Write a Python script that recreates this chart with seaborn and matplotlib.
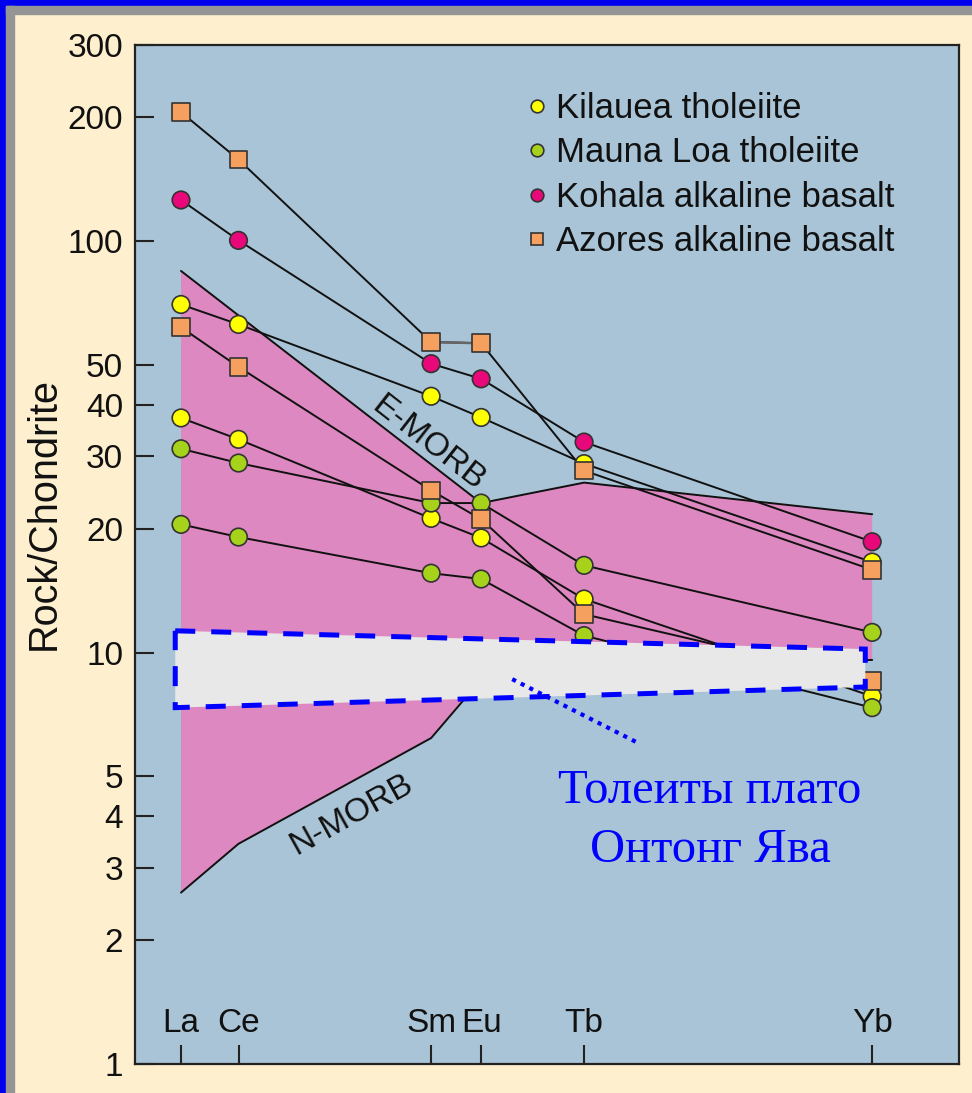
import numpy as np
import pandas as pd
import matplotlib
matplotlib.use("Agg")
import matplotlib.pyplot as plt
import seaborn as sns
from matplotlib.patches import Polygon, Rectangle
from matplotlib.ticker import NullLocator, FixedLocator, FixedFormatter

# ---------------- data ----------------
elements = ["La", "Ce", "Sm", "Eu", "Tb", "Yb"]
element_pos = [0, 1, 4.35, 5.22, 7.01, 12.02]

kilauea_1 = [70.2, 62.8, 42.0, 37.3, 28.8, 16.6]
kilauea_2 = [37.2, 33.0, 21.2, 19.0, 13.5, 7.83]
mauna_loa_1 = [31.3, 28.9, 23.1, 23.1, 16.3, 11.2]
mauna_loa_2 = [20.5, 19.1, 15.6, 15.1, 11.0, 7.35]
kohala = [126, 100.5, 50.4, 46.3, 32.5, 18.6]
azores_1 = [206, 158, 56.9, 56.5, 27.7, 15.9]
azores_2 = [61.8, 49.5, 24.8, 21.1, 12.4, 8.53]

groups = ["Kilauea tholeiite", "Mauna Loa tholeiite",
          "Kohala alkaline basalt", "Azores alkaline basalt"]

# MORB field boundaries
e_morb_elements = ["La", "Eu", "Tb", "Yb"]
e_morb = [84.7, 23.1, 25.9, 21.7]
n_morb_elements = ["La", "Ce", "Sm", "Eu", "Tb", "Yb"]
n_morb = [2.61, 3.43, 6.2, 8.6, 9.2, 9.6]

# Ontong Java annotation band (x in element-position units, y in Rock/Chondrite)
band_x = [-0.1, 11.9, 11.9, -0.1]
band_y = [11.3, 10.2, 8.25, 7.35]
pointer_x = [5.76, 7.93]
pointer_y = [8.62, 6.05]

y_ticks = [1, 2, 3, 4, 5, 10, 20, 30, 40, 50, 100, 200, 300]

# ---------------- styling ----------------
CREAM = "#FEF0CE"
AXBG = "#A9C4D6"
PINK = "#DD88C0"
palette = {"Kilauea tholeiite": "#FFFF00",
           "Mauna Loa tholeiite": "#A6D21C",
           "Kohala alkaline basalt": "#E8087A",
           "Azores alkaline basalt": "#F5A05E"}
markers = {"Kilauea tholeiite": "o", "Mauna Loa tholeiite": "o",
           "Kohala alkaline basalt": "o", "Azores alkaline basalt": "s"}

sns.set_theme(style="ticks")
plt.rcParams["font.family"] = ["Liberation Sans", "DejaVu Sans"]

pos_of = dict(zip(elements, element_pos))

samples = [("Kilauea 1", groups[0], kilauea_1), ("Kilauea 2", groups[0], kilauea_2),
           ("Mauna Loa 1", groups[1], mauna_loa_1), ("Mauna Loa 2", groups[1], mauna_loa_2),
           ("Kohala", groups[2], kohala),
           ("Azores 1", groups[3], azores_1), ("Azores 2", groups[3], azores_2)]
rows = []
for name, grp, vals in samples:
    for el, v in zip(elements, vals):
        rows.append({"sample": name, "group": grp, "element": el,
                     "pos": pos_of[el], "value": v})
df = pd.DataFrame(rows)

fig = plt.figure(figsize=(9.72, 10.93), dpi=100, facecolor=CREAM)
ax = fig.add_axes([135 / 972, 29 / 1093, 824 / 972, 1019 / 1093])
ax.set_facecolor(AXBG)
ax.set_yscale("log")
ax.set_ylim(1, 300)
ax.set_xlim(-0.8, 13.53)

# slide frame (blue + grey bands on top and left)
fig.patches.append(Rectangle((0, 1 - 6 / 1093), 1, 6 / 1093, transform=fig.transFigure,
                             color="#0000EE", zorder=0))
fig.patches.append(Rectangle((0, 0), 6 / 972, 1, transform=fig.transFigure,
                             color="#0000EE", zorder=0))
fig.patches.append(Rectangle((6 / 972, 1 - 14 / 1093), 1, 8 / 1093, transform=fig.transFigure,
                             color="#959595", zorder=0))
fig.patches.append(Rectangle((6 / 972, 0), 8 / 972, 1 - 6 / 1093, transform=fig.transFigure,
                             color="#959595", zorder=0))

# MORB field
ex = [pos_of[e] for e in e_morb_elements]
nx = [pos_of[e] for e in n_morb_elements]
field_x = ex + nx[::-1]
field_y = e_morb + n_morb[::-1]
ax.fill(field_x, field_y, color=PINK, lw=0, zorder=1)
ax.plot(ex, e_morb, color="#111111", lw=1.4, zorder=2)
ax.plot(nx, n_morb, color="#111111", lw=1.4, zorder=2)

# sample lines
sns.lineplot(data=df, x="pos", y="value", units="sample", estimator=None,
             color="#111111", linewidth=1.4, sort=False, legend=False, ax=ax, zorder=3)
az = df[(df["sample"] == "Azores 1") & (df["element"].isin(["Sm", "Eu"]))]
ax.plot(az["pos"], az["value"], color="#666666", lw=1.8, zorder=3.5)

# points
sns.scatterplot(data=df, x="pos", y="value", hue="group", style="group",
                palette=palette, markers=markers, hue_order=groups, style_order=groups,
                s=160, edgecolor="#333333", linewidth=1.2, ax=ax, zorder=4, legend=True)

handles, labels = ax.get_legend_handles_labels()
leg = ax.legend(handles, labels, loc="upper left", bbox_to_anchor=(0.471, 0.954),
                frameon=False, fontsize=25, handletextpad=0.15, labelspacing=0.33,
                handlelength=0.8, borderpad=0, borderaxespad=0, markerscale=0.72)
for t in leg.get_texts():
    t.set_color("#111111")

# Ontong Java band
band = Polygon(list(zip(band_x, band_y)), closed=True, facecolor="#E8E8E8",
               edgecolor="#0000FF", lw=3.6, linestyle=(0, (4, 3.2)), zorder=6)
ax.add_patch(band)
ax.plot(pointer_x, pointer_y, color="#0000FF", lw=3.0, linestyle=(0, (1, 1.3)),
        dash_capstyle="butt", zorder=6)

# labels on the field
ax.text(0.356, 0.609, "E-MORB", transform=ax.transAxes, rotation=-38,
        ha="center", va="center", fontsize=24, color="#111111", zorder=5)
ax.text(0.263, 0.245, "N-MORB", transform=ax.transAxes, rotation=29,
        ha="center", va="center", fontsize=24, color="#111111", zorder=5)

ax.text(0.698, 0.256, "Толеиты плато", transform=ax.transAxes, ha="center",
        va="baseline", fontsize=35, color="#0000FF", family=["Liberation Serif", "DejaVu Serif"], zorder=7)
ax.text(0.698, 0.198, "Онтонг Ява", transform=ax.transAxes, ha="center",
        va="baseline", fontsize=35, color="#0000FF", family=["Liberation Serif", "DejaVu Serif"], zorder=7)

# axes / ticks
ax.yaxis.set_major_locator(FixedLocator(y_ticks))
ax.yaxis.set_major_formatter(FixedFormatter([str(v) for v in y_ticks]))
ax.yaxis.set_minor_locator(NullLocator())
ax.set_xticks(element_pos)
ax.set_xticklabels([""] * len(elements))
ax.tick_params(axis="both", direction="in", length=14, width=1.5, color="#222222")
ax.tick_params(axis="y", labelsize=24, pad=8.5, labelcolor="#111111")
for el, p in zip(elements, element_pos):
    ax.text(p, 0.031, el, transform=ax.get_xaxis_transform(), ha="center",
            va="baseline", fontsize=24, color="#111111")
for sp in ax.spines.values():
    sp.set_color("#222222")
    sp.set_linewidth(1.6)
ax.set_xlabel("")
ax.set_ylabel("Rock/Chondrite", fontsize=28.5, color="#111111")
ax.yaxis.set_label_coords(-0.088, 0.54)

fig.savefig("out.png", dpi=100, facecolor=CREAM)
